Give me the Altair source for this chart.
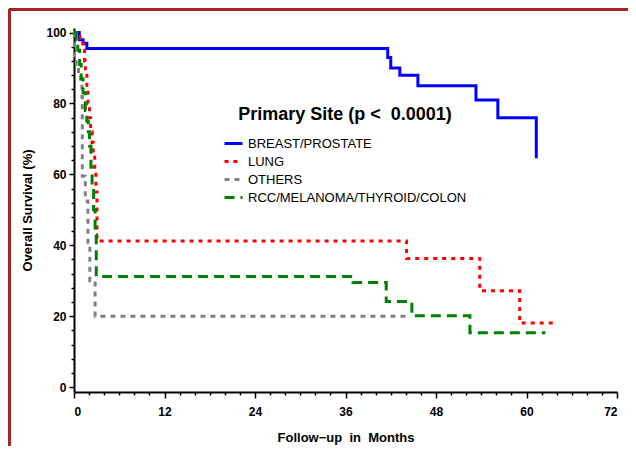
import altair as alt
import pandas as pd

sites = ["BREAST/PROSTATE", "LUNG", "OTHERS", "RCC/MELANOMA/THYROID/COLON"]
colors = ["#0000FF", "#FF0000", "#808080", "#008000"]
dashes = [[1, 0], [4, 5], [5, 5], [10, 6]]

bp_t = [0, 0.7, 1.2, 1.7, 41.6, 42.0, 43.2, 45.6, 53.3, 56.2, 61.3, 61.5]
bp_s = [100, 98, 97, 95.5, 93, 90, 88, 85, 81, 76, 65, 65]

lu_t = [0, 0.8, 1.2, 1.4, 1.5, 1.7, 1.85, 2.05, 2.2, 2.4, 2.55, 2.75, 2.9, 3.05, 44.1, 53.8, 59.1, 63.7]
lu_s = [100, 98, 95, 92, 88, 84, 80, 76, 72, 69, 66, 61, 55, 41.2, 36.3, 27.2, 18.1, 18.1]

ot_t = [0, 0.05, 0.3, 0.6, 0.9, 1.05, 1.1, 1.5, 1.85, 2.1, 2.8, 44.3]
ot_s = [100, 93, 91, 89, 86, 82, 59.5, 52.5, 40, 30, 20, 20]

rc_t = [0, 0.3, 0.5, 0.75, 0.95, 1.2, 1.5, 1.7, 1.9, 2.05, 2.25, 2.4, 2.6, 2.8, 2.95, 37.0, 41.4, 44.8, 52.5, 62.5]
rc_s = [100, 98, 95, 91, 87, 83, 78, 75, 72, 68, 62, 57, 50, 43, 31.2, 29.5, 24.1, 20.1, 15.3, 15.3]

x_major = [0, 12, 24, 36, 48, 60, 72]
y_major = [0, 20, 40, 60, 80, 100]

rows = []
for name, ts, ss in zip(sites, [bp_t, lu_t, ot_t, rc_t], [bp_s, lu_s, ot_s, rc_s]):
    for t, s in zip(ts, ss):
        rows.append({"month": t, "surv": s, "site": name})
df = pd.DataFrame(rows)

FONT = "Liberation Sans"
W, H = 543, 364
PL, PT, PR, PB = 66, 20, 11, 54

legend = alt.Legend(
    title="Primary Site (p <\u00a0 0.0001)",
    orient="none", legendX=149, legendY=78,
    titleFontSize=18, titleFont=FONT, titleFontWeight="bold", titleColor="black",
    titleAnchor="middle", titlePadding=9, titleLimit=0,
    labelFontSize=13, labelFont=FONT, labelColor="black", labelLimit=0,
    symbolType="stroke", symbolSize=324, symbolStrokeWidth=3,
    rowPadding=0, labelOffset=4,
)

lines = alt.Chart(df).mark_line(interpolate="step-after", strokeWidth=3, strokeCap="butt").encode(
    x=alt.X("month:Q", scale=alt.Scale(domain=[0, 72], nice=False, zero=False),
            axis=alt.Axis(
                title="Follow\u2212up\u00a0 in\u00a0 Months",
                values=list(range(0, 73, 2)),
                labelExpr="datum.value % 12 === 0 ? datum.label : ''",
                labelOverlap=False,
                tickSize={"condition": {"test": "datum.value % 12 === 0", "value": 6}, "value": 3},
                labelPadding=8, titlePadding=14,
            )),
    y=alt.Y("surv:Q", scale=alt.Scale(domain=[-1.4, 101.3], nice=False, zero=False),
            axis=alt.Axis(
                title="Overall Survival (%)",
                values=list(range(0, 101, 4)),
                labelExpr="datum.value % 20 === 0 ? datum.label : ''",
                labelOverlap=False,
                tickSize={"condition": {"test": "datum.value % 20 === 0", "value": 5}, "value": 3},
                labelPadding=3, titlePadding=11,
            )),
    color=alt.Color("site:N", scale=alt.Scale(domain=sites, range=colors), sort=sites, legend=legend),
    strokeDash=alt.StrokeDash("site:N", scale=alt.Scale(domain=sites, range=dashes), sort=sites, legend=legend),
    detail="site:N",
)

frame_df = pd.DataFrame({"k": [0]})
top_line = alt.Chart(frame_df).mark_rule(color="#a3262a", strokeWidth=3).encode(
    x=alt.value(-PL + 1), x2=alt.value(W + PR), y=alt.value(-PT + 1.5)
)
left_line = alt.Chart(frame_df).mark_rule(color="#a3262a", strokeWidth=3).encode(
    x=alt.value(-PL + 1.5), y=alt.value(-PT + 1), y2=alt.value(H + PB)
)

chart = alt.layer(lines, top_line, left_line).properties(
    width=W, height=H,
    autosize=alt.AutoSizeParams(type="none"),
    padding={"left": PL, "top": PT, "right": PR, "bottom": PB},
).configure_view(stroke=None).configure_axis(
    grid=False, domainColor="black", domainWidth=2, tickColor="black", tickWidth=1.5,
    labelFont=FONT, labelFontSize=12, labelFontWeight="bold", labelColor="black",
    titleFont=FONT, titleFontSize=13, titleFontWeight="bold", titleColor="black",
)

chart.save("out.html", embed_options={"renderer": "svg", "actions": False})
